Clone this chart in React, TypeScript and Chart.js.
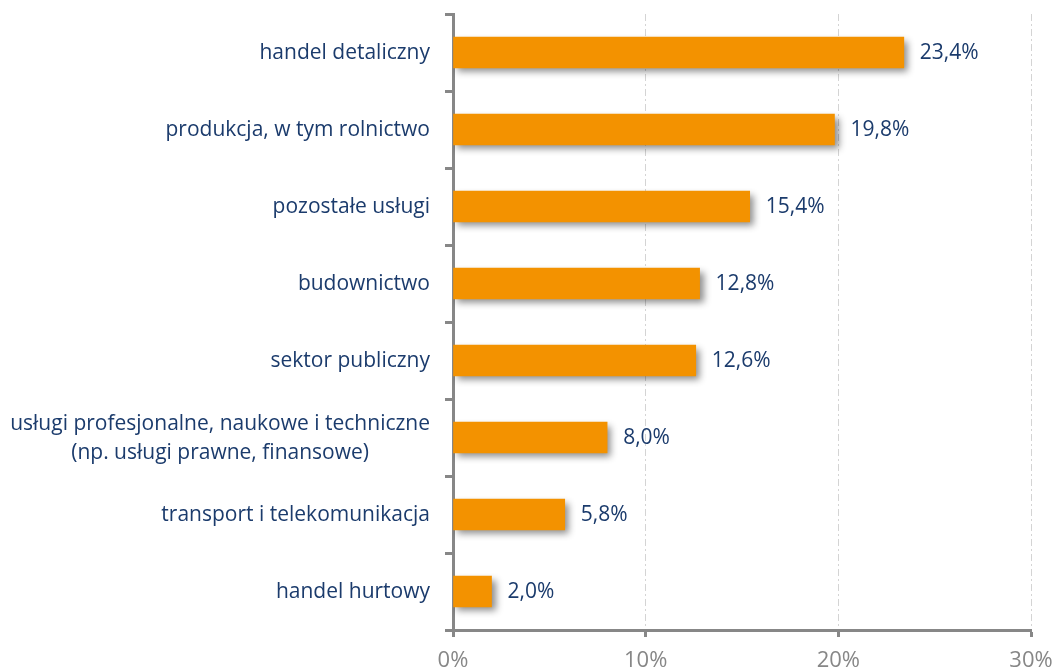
import React, { useEffect, useRef } from "react";
import { Chart, registerables } from "chart.js";

Chart.register(...registerables);

const categories: string[][] = [
  ["handel detaliczny"],
  ["produkcja, w tym rolnictwo"],
  ["pozostałe usługi"],
  ["budownictwo"],
  ["sektor publiczny"],
  ["usługi profesjonalne, naukowe i techniczne", "(np. usługi prawne, finansowe)"],
  ["transport i telekomunikacja"],
  ["handel hurtowy"],
];
const values: number[] = [23.4, 19.8, 15.4, 12.8, 12.6, 8.0, 5.8, 2.0];
const xTicks: number[] = [0, 10, 20, 30];

const NAVY = "#1B3B6C";
const GREY = "#878787";
const FONT = "'Open Sans', Lato, sans-serif";
const LABEL_SIZE = 21;

const shadowPlugin = {
  id: "barShadow",
  beforeDatasetDraw(chart: any) {
    const ctx = chart.ctx;
    ctx.save();
    ctx.shadowColor = "rgba(0,0,0,0.45)";
    ctx.shadowBlur = 7;
    ctx.shadowOffsetX = 4;
    ctx.shadowOffsetY = 4;
  },
  afterDatasetDraw(chart: any) {
    chart.ctx.restore();
  },
};

const labelPlugin = {
  id: "valueLabels",
  afterDatasetsDraw(chart: any) {
    const ctx = chart.ctx;
    const meta = chart.getDatasetMeta(0);
    ctx.save();
    ctx.font = `${LABEL_SIZE}px ${FONT}`;
    ctx.fillStyle = NAVY;
    ctx.textAlign = "left";
    ctx.textBaseline = "middle";
    meta.data.forEach((el: any, i: number) => {
      const v = values[i];
      ctx.fillText(v.toFixed(1).replace(".", ",") + "%", el.x + 16, el.y + 1);
    });
    ctx.restore();
  },
};

const categoryLabelPlugin = {
  id: "categoryLabels",
  afterDraw(chart: any) {
    const ctx = chart.ctx;
    const y = chart.scales.y;
    const right = 430;
    const lineH = 29;
    ctx.save();
    ctx.font = `${LABEL_SIZE}px ${FONT}`;
    ctx.fillStyle = NAVY;
    ctx.textAlign = "center";
    ctx.textBaseline = "middle";
    categories.forEach((lines, i) => {
      const cy = y.getPixelForTick(i) + 1;
      const maxW = Math.max(...lines.map((l) => ctx.measureText(l).width));
      const cx = right - maxW / 2;
      const startY = cy - ((lines.length - 1) * lineH) / 2;
      lines.forEach((l, j) => ctx.fillText(l, cx, startY + j * lineH));
    });
    ctx.restore();
  },
};

export default function App() {
  const ref = useRef<HTMLCanvasElement>(null);
  useEffect(() => {
    document.body.style.margin = "0";
    const chart = new Chart(ref.current!, {
      type: "bar",
      data: {
        labels: categories.map((c) => c.join(" ")),
        datasets: [
          {
            data: values,
            backgroundColor: "#F39200",
            borderWidth: 0,
            barThickness: 31,
          },
        ],
      },
      options: {
        indexAxis: "y",
        animation: false,
        responsive: false,
        maintainAspectRatio: false,
        layout: { padding: { top: 14, right: 24, left: 0, bottom: 0 } },
        plugins: { legend: { display: false }, tooltip: { enabled: false } },
        scales: {
          x: {
            min: 0,
            max: 30,
            afterBuildTicks: (scale: any) => {
              scale.ticks = xTicks.map((v) => ({ value: v }));
            },
            afterFit: (scale: any) => {
              scale.height = 40;
              scale.paddingLeft = 0;
              scale.paddingRight = 0;
            },
            border: { display: true, color: GREY, width: 3, dash: [7, 3, 2, 3] },
            grid: {
              color: (c: any) => (c.tick && c.tick.value === 0 ? "rgba(0,0,0,0)" : "#D4D4D4"),
              lineWidth: 1,
              tickLength: 7,
              tickColor: GREY,
              tickWidth: 3,
              tickBorderDash: [],
            },
            ticks: {
              color: GREY,
              font: { family: FONT, size: 22 },
              padding: 11,
              callback: (v: any) => v + "%",
            },
          },
          y: {
            afterFit: (scale: any) => {
              scale.width = 453;
              scale.paddingTop = 0;
              scale.paddingBottom = 0;
            },
            border: { display: true, color: GREY, width: 3 },
            grid: {
              drawOnChartArea: false,
              offset: true,
              tickLength: 8,
              tickColor: GREY,
              tickWidth: 3,
            },
            ticks: {
              display: false,
            },
          },
        },
      },
      plugins: [shadowPlugin, labelPlugin, categoryLabelPlugin],
    });
    return () => chart.destroy();
  }, []);
  return (
    <div style={{ width: 1055, height: 670 }}>
      <canvas ref={ref} width={1055} height={670} style={{ display: "block" }} />
    </div>
  );
}
